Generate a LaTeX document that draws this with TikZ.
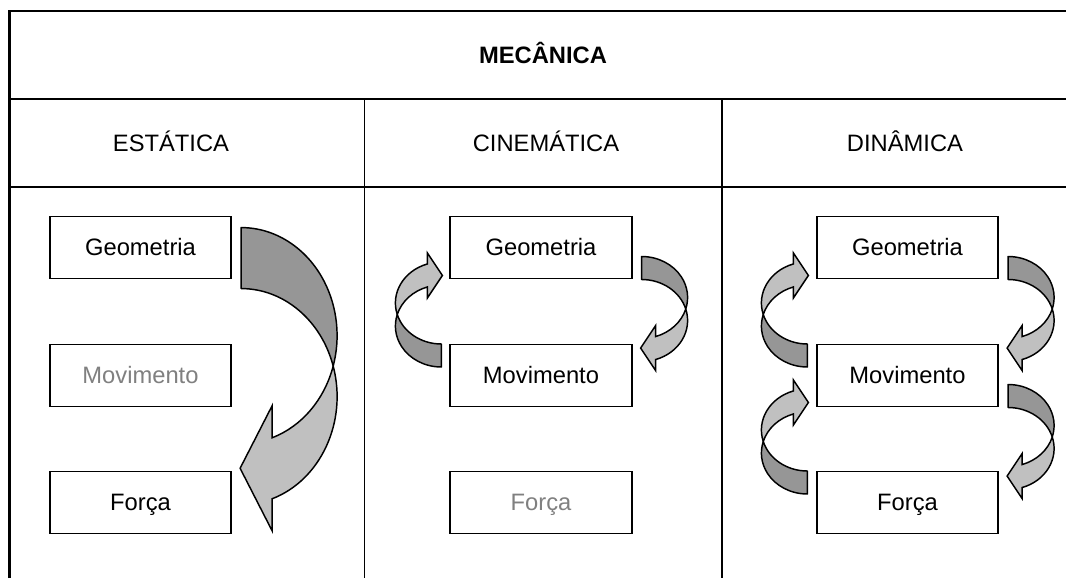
\documentclass[tikz,border=0pt]{standalone}
\usepackage{fontspec}
\setmainfont{Liberation Sans}
\usetikzlibrary{calc}

\definecolor{backgray}{RGB}{150,150,150}
\definecolor{frontgray}{RGB}{192,192,192}
\definecolor{fadedtext}{RGB}{128,128,128}

\tikzset{
  tabletext/.style={inner sep=0pt, text height=12.7pt, text depth=0pt, font=\fontsize{17.8}{21}\selectfont},
  topicbox/.style={tabletext, draw, line width=1.4pt, fill=white, minimum width=136pt, minimum height=46.5pt},
  faded/.style={text=fadedtext},
  outerline/.style={line width=2pt},
  innerline/.style={line width=1.2pt},
  backband/.style={fill=backgray, line width=1.1pt, line join=round},
  frontband/.style={fill=frontgray, line width=1.1pt, line join=miter}
}

% band arrow: #1 tail point, #2 rotation, #3 band width, #4 x radius, #5 y radius,
% #6 head base offset, #7 barb size, #8 head length
\newcommand{\bendarrow}[8]{%
  \begin{scope}[shift={#1}, rotate=#2]
    \pgfmathsetmacro{\arcross}{asin(#3/(2*#5))}
    \pgfmathsetmacro{\arhead}{acos(#6/#4)}
    \pgfmathsetmacro{\arxc}{#4*cos(\arcross)}
    \pgfmathsetmacro{\aryc}{#5+#3/2}
    \pgfmathsetmacro{\aryin}{#5+#5*sin(\arhead)}
    \pgfmathsetmacro{\aryout}{\aryin+#3}
    % back part
    \draw[backband] (0,0) arc[start angle=-90, end angle=\arcross, x radius=#4, y radius=#5]
      arc[start angle=-\arcross, end angle=-90, x radius=#4, y radius=#5] -- cycle;
    % front part with head
    \draw[frontband] (\arxc,\aryc) arc[start angle=\arcross, end angle=\arhead, x radius=#4, y radius=#5]
      -- (#6,\aryin-#7) -- (#6-#8,\aryin+#3/2) -- (#6,\aryout+#7) -- (#6,\aryout)
      arc[start angle=\arhead, end angle=-\arcross, x radius=#4, y radius=#5] -- cycle;
  \end{scope}}
\newcommand{\bigbend}[1]{\bendarrow{#1}{0}{61}{96}{108}{31}{32}{32}}
\newcommand{\smallbend}[2]{\bendarrow{#1}{#2}{23}{46}{41}{14}{11}{15}}

\begin{document}
\begin{tikzpicture}[x=0.75pt,y=0.75pt,yscale=-1,xscale=1]
\useasboundingbox (0,0) rectangle (1066,578);

%Table lines
\draw[outerline] (9.5,578) -- (9.5,11) -- (1066,11);
\draw[innerline] (9.5,99) -- (1066,99);
\draw[innerline] (9.5,187) -- (1066,187);
\draw[innerline] (364.5,99) -- (364.5,578);
\draw[innerline] (722,99) -- (722,578);

% Text Node
\node[tabletext, font=\fontsize{17.8}{21}\selectfont\bfseries] (mecanica) at (543,55) {MECÂNICA};
\node[tabletext] (estatica) at (171,143) {ESTÁTICA};
\node[tabletext] (cinematica) at (546,143) {CINEMÁTICA};
\node[tabletext] (dinamica) at (905,143) {DINÂMICA};

%Shape: Rectangle
\node[topicbox] (geoE) at (140.5,247.5) {Geometria};
\node[topicbox, faded] (movE) at (140.5,375.5) {Movimento};
\node[topicbox] (forE) at (140.5,502.5) {Força};
%Shape: Rectangle
\node[topicbox] (geoC) at (541,247.5) {Geometria};
\node[topicbox] (movC) at (541,375.5) {Movimento};
\node[topicbox, faded] (forC) at (541,502.5) {Força};
%Shape: Rectangle
\node[topicbox] (geoD) at (907.5,247.5) {Geometria};
\node[topicbox] (movD) at (907.5,375.5) {Movimento};
\node[topicbox] (forD) at (907.5,502.5) {Força};

%Curved arrows
\bigbend{($(geoE.north east)+(9,12)$)}
\smallbend{($(geoC.east)+(9,9)$)}{0}
\smallbend{($(movC.west)+(-8,-8.5)$)}{180}
\smallbend{($(geoD.east)+(9,9)$)}{0}
\smallbend{($(movD.east)+(9,9)$)}{0}
\smallbend{($(movD.west)+(-8.5,-8.5)$)}{180}
\smallbend{($(forD.west)+(-8.5,-8.5)$)}{180}
\end{tikzpicture}
\end{document}
